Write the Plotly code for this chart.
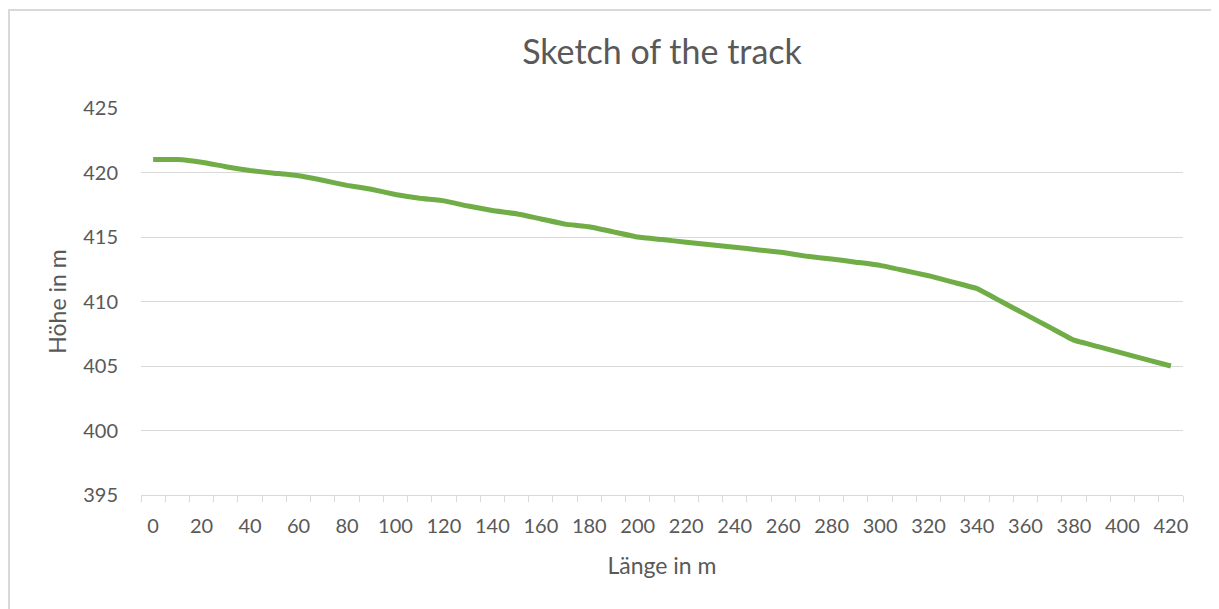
import plotly.graph_objects as go

lengths = list(range(0, 430, 10))
heights = [421.0, 421.0, 420.8, 420.45, 420.15, 419.95, 419.75, 419.4, 419.0, 418.7,
           418.3, 418.0, 417.8, 417.4, 417.05, 416.8, 416.4, 416.0, 415.8, 415.4,
           415.0, 414.8, 414.6, 414.4, 414.2, 414.0, 413.8, 413.5, 413.3, 413.05,
           412.8, 412.4, 412.0, 411.5, 411.0, 410.0, 409.0, 408.0, 407.0, 406.5,
           406.0, 405.5, 405.0]
x_labels = list(range(0, 430, 20))
y_ticks = [395, 400, 405, 410, 415, 420, 425]

title_text = "Sketch of the track"
x_title = "Länge in m"
y_title = "Höhe in m"

FONT = "Lato, 'Open Sans', sans-serif"
GREY = "#595959"

fig = go.Figure()
fig.add_trace(go.Scatter(
    x=lengths, y=heights, mode="lines",
    line=dict(color="#70ad47", width=5, shape="spline", smoothing=0.3),
    showlegend=False, hoverinfo="x+y",
))

OFF = 8  # page body margin
W, H = 1219 - OFF, 609 - OFF
L, R, T, B = 141 - OFF, 36, 108 - OFF, 114
pw, ph = W - L - R, H - T - B

def px(x):
    return (x - OFF - L) / pw

def py(y):
    return (H - B - (y - OFF)) / ph

fig.add_shape(type="rect", xref="paper", yref="paper",
              x0=px(9), x1=px(1216), y0=py(640), y1=py(10),
              line=dict(color="#d9d9d9", width=2), fillcolor="rgba(0,0,0,0)", layer="below")

fig.update_layout(
    width=W, height=H,
    margin=dict(l=L, r=R, t=T, b=B, pad=0),
    paper_bgcolor="white", plot_bgcolor="white",
    font=dict(family=FONT, color=GREY, size=20),
    title=dict(text=title_text, x=0.5, xref="paper", xanchor="center",
               y=1 - (52 - OFF) / H, yanchor="middle", yref="container",
               font=dict(size=34, color=GREY, family=FONT)),
    xaxis=dict(
        range=[-5, 425], tickmode="array", tickvals=x_labels,
        ticktext=[str(v) for v in x_labels], ticks="", showgrid=False,
        zeroline=False, showline=True, linecolor="#d9d9d9", linewidth=1.3,
        ticklabelstandoff=13, tickfont=dict(size=20, color=GREY),
        minor=dict(tickmode="array", tickvals=[v - 5 for v in range(0, 440, 10)],
                   ticks="outside", ticklen=6, tickcolor="#d9d9d9", tickwidth=1.3,
                   showgrid=False),
        title=dict(text=x_title, font=dict(size=23, color=GREY), standoff=21),
        fixedrange=True,
    ),
    yaxis=dict(
        range=[395, 425], tickmode="array", tickvals=y_ticks,
        showgrid=True, gridcolor="#d9d9d9", gridwidth=1.3,
        zeroline=False, showline=False, ticks="",
        ticklabelstandoff=22, tickfont=dict(size=20, color=GREY),
        title=dict(text=y_title, font=dict(size=23, color=GREY), standoff=10),
        fixedrange=True,
    ),
)

fig.write_html("out.html")
